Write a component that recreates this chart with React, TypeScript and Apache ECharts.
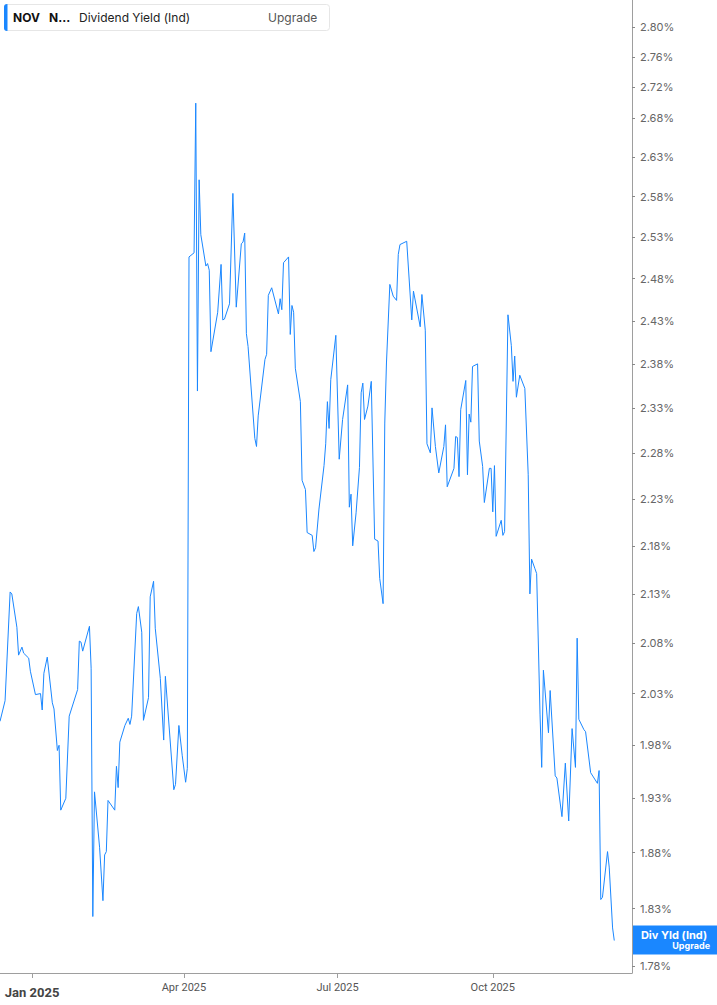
import React, { useEffect, useRef } from "react";
import * as echarts from "echarts";

const dates: string[] = [
  "2024-12-13","2024-12-16","2024-12-19","2024-12-20","2024-12-23","2024-12-24","2024-12-26","2024-12-27","2024-12-30","2024-12-31",
  "2025-01-03","2025-01-06","2025-01-07","2025-01-08","2025-01-10","2025-01-13","2025-01-14","2025-01-16","2025-01-17","2025-01-18",
  "2025-01-21","2025-01-23","2025-01-28","2025-01-29","2025-01-30","2025-01-31","2025-02-04","2025-02-05","2025-02-06","2025-02-07",
  "2025-02-10","2025-02-12","2025-02-13","2025-02-14","2025-02-15","2025-02-19","2025-02-20","2025-02-21","2025-02-22","2025-02-25",
  "2025-02-27","2025-02-28","2025-03-01","2025-03-04","2025-03-05","2025-03-07","2025-03-08","2025-03-11","2025-03-12","2025-03-14",
  "2025-03-15","2025-03-18","2025-03-20","2025-03-21","2025-03-26","2025-03-27","2025-03-29","2025-03-31","2025-04-02","2025-04-03",
  "2025-04-04","2025-04-07","2025-04-08","2025-04-09","2025-04-10","2025-04-11","2025-04-14","2025-04-15","2025-04-16","2025-04-17",
  "2025-04-21","2025-04-23","2025-04-24","2025-04-25","2025-04-28","2025-04-30","2025-05-02","2025-05-05","2025-05-06","2025-05-07",
  "2025-05-08","2025-05-09","2025-05-13","2025-05-14","2025-05-15","2025-05-19","2025-05-20","2025-05-21","2025-05-23","2025-05-27",
  "2025-05-28","2025-05-29","2025-05-30","2025-06-02","2025-06-03","2025-06-04","2025-06-05","2025-06-06","2025-06-09","2025-06-10",
  "2025-06-12","2025-06-13","2025-06-16","2025-06-17","2025-06-18","2025-06-20","2025-06-23","2025-06-24","2025-06-25","2025-06-26",
  "2025-06-27","2025-06-30","2025-07-02","2025-07-04","2025-07-07","2025-07-08","2025-07-09","2025-07-10","2025-07-12","2025-07-14",
  "2025-07-15","2025-07-16","2025-07-17","2025-07-19","2025-07-21","2025-07-23","2025-07-25","2025-07-26","2025-07-28","2025-07-29",
  "2025-07-30","2025-08-01","2025-08-03","2025-08-05","2025-08-06","2025-08-07","2025-08-11","2025-08-14","2025-08-15","2025-08-19",
  "2025-08-20","2025-08-22","2025-08-23","2025-08-25","2025-08-26","2025-08-28","2025-08-30","2025-09-02","2025-09-03","2025-09-04",
  "2025-09-08","2025-09-09","2025-09-10","2025-09-11","2025-09-12","2025-09-15","2025-09-16","2025-09-17","2025-09-18","2025-09-19",
  "2025-09-22","2025-09-23","2025-09-25","2025-09-26","2025-09-29","2025-09-30","2025-10-01","2025-10-02","2025-10-03","2025-10-06",
  "2025-10-07","2025-10-08","2025-10-10","2025-10-12","2025-10-13","2025-10-14","2025-10-15","2025-10-17","2025-10-20","2025-10-22",
  "2025-10-23","2025-10-24","2025-10-26","2025-10-27","2025-10-29","2025-10-30","2025-10-31","2025-11-03","2025-11-04","2025-11-07",
  "2025-11-08","2025-11-11","2025-11-13","2025-11-15","2025-11-17","2025-11-19","2025-11-20","2025-11-21","2025-11-24","2025-11-25",
  "2025-11-28","2025-12-02","2025-12-03","2025-12-04","2025-12-05","2025-12-08","2025-12-09","2025-12-11","2025-12-12",
];

const yieldPct: number[] = [
  2.003,2.023,2.132,2.130,2.096,2.068,2.076,2.070,2.065,2.052,
  2.029,2.030,2.014,2.050,2.066,2.021,2.015,1.975,1.980,1.919,
  1.930,2.008,2.034,2.082,2.081,2.072,2.097,2.055,1.823,1.936,
  1.885,1.837,1.878,1.881,1.928,1.919,1.960,1.940,1.983,1.999,
  2.006,2.000,2.008,2.110,2.117,2.091,2.004,2.026,2.127,2.143,
  2.095,2.045,1.985,2.047,1.938,1.943,1.999,1.970,1.945,1.958,
  2.506,2.511,2.699,2.349,2.601,2.533,2.495,2.498,2.490,2.394,
  2.440,2.497,2.431,2.432,2.450,2.584,2.446,2.522,2.524,2.535,
  2.415,2.400,2.296,2.287,2.321,2.385,2.391,2.460,2.469,2.438,
  2.456,2.443,2.499,2.506,2.414,2.448,2.440,2.375,2.337,2.250,
  2.240,2.194,2.191,2.174,2.178,2.219,2.266,2.290,2.337,2.307,
  2.362,2.413,2.273,2.317,2.356,2.221,2.235,2.180,2.215,2.264,
  2.347,2.358,2.317,2.332,2.360,2.187,2.185,2.146,2.120,2.313,
  2.381,2.473,2.459,2.454,2.509,2.521,2.525,2.431,2.465,2.423,
  2.461,2.419,2.290,2.280,2.330,2.287,2.258,2.287,2.311,2.243,
  2.263,2.298,2.297,2.254,2.328,2.361,2.256,2.323,2.314,2.377,
  2.380,2.293,2.265,2.226,2.263,2.263,2.216,2.266,2.190,2.207,
  2.191,2.195,2.437,2.401,2.360,2.389,2.342,2.367,2.352,2.256,
  2.130,2.166,2.156,2.151,2.010,1.959,2.053,1.992,2.033,1.951,
  1.949,1.913,1.963,1.909,1.996,1.959,2.085,2.005,1.995,1.993,
  1.954,1.944,1.956,1.838,1.840,1.881,1.867,1.813,1.802,
];

const yTicks: number[] = [
  1.78, 1.83, 1.88, 1.93, 1.98, 2.03, 2.08, 2.13, 2.18, 2.23, 2.28,
  2.33, 2.38, 2.43, 2.48, 2.53, 2.58, 2.63, 2.68, 2.72, 2.76, 2.80,
];
const xTickDates: string[] = ["2025-01-01", "2025-04-01", "2025-07-01", "2025-10-01"];
const monthNames: string[] = ["Jan","Feb","Mar","Apr","May","Jun","Jul","Aug","Sep","Oct","Nov","Dec"];

const yMin = 1.774;
const yMax = 2.8367;
const xMinDate = "2024-12-13";
const xMaxDate = "2025-12-22";

const LINE = "#1a87ff";

const toTs = (s: string) => {
  const [y, m, d] = s.split("-").map(Number);
  return Date.UTC(y, m - 1, d);
};

export default function App() {
  const ref = useRef<HTMLDivElement>(null);
  useEffect(() => {
    if (!ref.current) return;
    const chart = echarts.init(ref.current, null, { renderer: "svg" });
    const seriesData = dates.map((d, i) => [toTs(d), Math.log(yieldPct[i])]);
    const xTicks = xTickDates.map(toTs);
    const option: any = {
      animation: false,
      backgroundColor: "#ffffff",
      grid: { left: 0, right: 85, top: 0, bottom: 32, containLabel: false },
      xAxis: {
        type: "value",
        min: toTs(xMinDate),
        max: toTs(xMaxDate) + 12 * 3600 * 1000,
        axisLine: { show: true, lineStyle: { color: "#9e9e9e", width: 1 } },
        axisTick: { show: true, length: 5, customValues: xTicks, lineStyle: { color: "#9e9e9e" } },
        splitLine: { show: false },
        axisLabel: {
          customValues: xTicks,
          margin: 9,
          color: "#555",
          fontFamily: "Roboto",
          fontSize: 11,
          formatter: (v: number) => {
            const d = new Date(v);
            const m = d.getUTCMonth();
            const txt = `${monthNames[m]} ${d.getUTCFullYear()}`;
            return m === 0 ? `{b|${txt}}` : txt;
          },
          rich: {
            b: { fontWeight: "bold", fontSize: 13, color: "#444", fontFamily: "Roboto", padding: [4, 0, 0, 0] },
          },
        },
      },
      yAxis: {
        type: "value",
        position: "right",
        min: Math.log(yMin),
        max: Math.log(yMax),
        axisLine: { show: true, lineStyle: { color: "#9e9e9e", width: 1 } },
        axisTick: {
          show: true,
          length: 3,
          customValues: yTicks.map((v) => Math.log(v)),
          lineStyle: { color: "#888" },
        },
        splitLine: { show: false },
        axisLabel: {
          customValues: yTicks.map((v) => Math.log(v)),
          margin: 8,
          color: "#666",
          fontFamily: "Inter",
          fontSize: 11,
          formatter: (v: number) => Math.exp(v).toFixed(2) + "%",
        },
      },
      series: [
        {
          type: "line",
          data: seriesData,
          showSymbol: false,
          symbol: "none",
          lineStyle: { color: LINE, width: 1 },
          itemStyle: { color: LINE },
        },
      ],
    };
    chart.setOption(option);

    const lastLn = Math.log(yieldPct[yieldPct.length - 1]);
    const pyRaw = chart.convertToPixel({ yAxisIndex: 0 }, lastLn) as any;
    const py = typeof pyRaw === "number" && isFinite(pyRaw) ? pyRaw : 941;
    chart.setOption({
      graphic: [
        { type: "rect", shape: { x: 4.5, y: 4.5, width: 325, height: 26, r: 3 }, style: { fill: "#ffffff", stroke: "#e6e6e6", lineWidth: 1 }, z: 10 },
        { type: "rect", shape: { x: 4, y: 4, width: 3.5, height: 27, r: [3, 0, 0, 3] }, style: { fill: LINE }, z: 11 },
        { type: "text", x: 13, y: 17, style: { text: "NOV", fontFamily: "Inter", fontSize: 12, fontWeight: "bold", fill: "#111", verticalAlign: "middle" }, z: 11 },
        { type: "text", x: 49, y: 17, style: { text: "N...", fontFamily: "Inter", fontSize: 12, fontWeight: "bold", fill: "#111", verticalAlign: "middle" }, z: 11 },
        { type: "text", x: 79, y: 17, style: { text: "Dividend Yield (Ind)", fontFamily: "Inter", fontSize: 12, fill: "#222", verticalAlign: "middle" }, z: 11 },
        { type: "text", x: 268, y: 17, style: { text: "Upgrade", fontFamily: "Inter", fontSize: 12, fill: "#555", verticalAlign: "middle" }, z: 11 },
        { type: "rect", shape: { x: 633, y: py - 15, width: 84, height: 29 }, style: { fill: LINE }, z: 10 },
        { type: "text", x: 674, y: py - 6, style: { text: "Div Yld (Ind)", fontFamily: "Inter", fontSize: 11, fontWeight: "bold", fill: "#fff", align: "center", verticalAlign: "middle" }, z: 11 },
        { type: "text", x: 710, y: py + 5, style: { text: "Upgrade", fontFamily: "Inter", fontSize: 9, fontWeight: "bold", fill: "#fff", align: "right", verticalAlign: "middle" }, z: 11 },
      ],
    });

    return () => chart.dispose();
  }, []);
  return (
    <div
      ref={ref}
      style={{ position: "fixed", left: 0, top: 0, width: 717, height: 1005, background: "#fff" }}
    />
  );
}
